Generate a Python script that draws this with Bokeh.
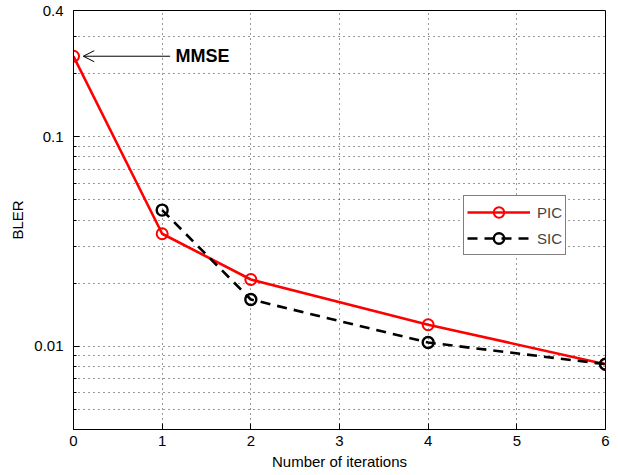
from bokeh.plotting import figure
from bokeh.models import (FixedTicker, CustomJSTickFormatter, Legend, LegendItem,
                          Arrow, OpenHead, Label)
from bokeh.embed import file_html
from bokeh.resources import INLINE

# ---- data ----
pic_x = [0, 1, 2, 4, 6]
pic_y = [0.242, 0.0344, 0.0208, 0.01265, 0.0082]
sic_x = [1, 2, 4, 6]
sic_y = [0.0446, 0.0167, 0.0104, 0.0082]
x_ticks = [0, 1, 2, 3, 4, 5, 6]
y_ticks = [0.01, 0.1, 0.4]
y_minor = [0.004, 0.005, 0.006, 0.007, 0.008, 0.009,
           0.02, 0.03, 0.04, 0.05, 0.06, 0.07, 0.08, 0.09,
           0.2, 0.3]

FONT = "Liberation Sans"

p = figure(width=616, height=473, y_axis_type="log",
           x_range=(0, 6), y_range=(0.004, 0.4),
           output_backend="svg", toolbar_location=None,
           min_border_left=73, min_border_right=11,
           min_border_top=10, min_border_bottom=44)
p.background_fill_color = "white"
p.border_fill_color = "white"
p.outline_line_color = "black"
p.outline_line_width = 1

# axes
p.xaxis.ticker = FixedTicker(ticks=x_ticks)
p.yaxis.ticker = FixedTicker(ticks=y_ticks, minor_ticks=y_minor)
p.yaxis.formatter = CustomJSTickFormatter(code="return String(tick);")
p.xaxis.axis_label = "Number of iterations"
p.yaxis.axis_label = "BLER"
for ax in (p.xaxis[0], p.yaxis[0]):
    ax.axis_line_color = "black"
    ax.major_tick_line_color = "black"
    ax.minor_tick_line_color = "black"
    ax.major_tick_in = 6
    ax.major_tick_out = 0
    ax.minor_tick_in = 3
    ax.minor_tick_out = 0
    ax.major_label_text_font = FONT
    ax.major_label_text_font_size = "15px"
    ax.major_label_text_color = "black"
    ax.axis_label_text_font = FONT
    ax.axis_label_text_font_size = "15px"
    ax.axis_label_text_font_style = "normal"
    ax.axis_label_text_color = "black"
p.xaxis.minor_tick_in = 0
p.xaxis.major_label_standoff = 6
p.xaxis.axis_label_standoff = 4
p.yaxis.major_label_standoff = 10
p.yaxis.axis_label_standoff = 5

# grid
GRID = "#333333"
p.xgrid.grid_line_color = GRID
p.xgrid.grid_line_dash = "1 4"
p.xgrid.grid_line_width = 1
p.ygrid.grid_line_color = GRID
p.ygrid.grid_line_dash = "1 4"
p.ygrid.minor_grid_line_color = GRID
p.ygrid.minor_grid_line_dash = "1 4"

# series
pic_line = p.line(pic_x, pic_y, line_color="#ff0000", line_width=2.6)
pic_pts = p.scatter(pic_x, pic_y, marker="circle", size=11, line_color="#ff0000",
                    line_width=2, fill_color=None)
sic_line = p.line(sic_x, sic_y, line_color="black", line_width=2.6, line_dash="10 7")
sic_pts = p.scatter(sic_x, sic_y, marker="circle", size=11, line_color="black",
                    line_width=2.4, fill_color=None)

legend = Legend(items=[LegendItem(label="PIC", renderers=[pic_line, pic_pts]),
                       LegendItem(label="SIC", renderers=[sic_line, sic_pts])],
                location=(390, 174))
legend.border_line_color = "black"
legend.border_line_width = 1
legend.background_fill_color = "white"
legend.background_fill_alpha = 1
legend.label_text_font = FONT
legend.label_text_font_size = "15px"
legend.glyph_width = 63
legend.glyph_height = 26
legend.label_standoff = 7
legend.spacing = -3
legend.padding = 3
legend.margin = 0
p.add_layout(legend, "center")

# MMSE annotation
p.add_layout(Arrow(end=OpenHead(size=11, line_width=1, line_color="black"),
                   x_start=1.09, y_start=pic_y[0], x_end=0.11, y_end=pic_y[0],
                   line_color="black", line_width=1))
p.add_layout(Label(x=1.15, y=pic_y[0], text="MMSE", text_font=FONT,
                   text_font_size="18px", text_font_style="bold",
                   text_baseline="middle", text_color="black"))

open("out.html", "w").write(file_html(p, INLINE))
